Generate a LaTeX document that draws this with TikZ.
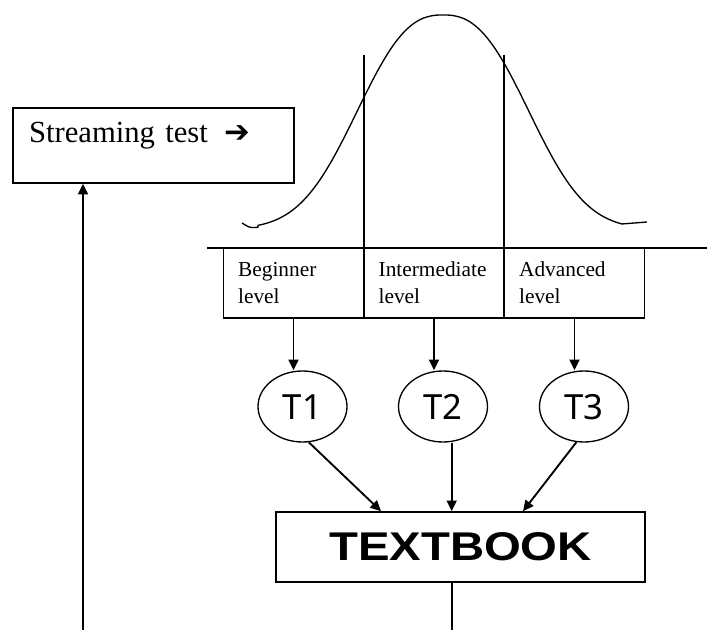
\documentclass[tikz,border=0pt]{standalone}
\usepackage{graphicx}
\usepackage{fontspec}
\setmainfont{Liberation Serif}
\newfontfamily\turmafont{Noto Sans}
\newfontfamily\livrofont{Liberation Sans}
\newfontfamily\setafont{DejaVu Sans}
\usetikzlibrary{arrows.meta,shapes.geometric}

\begin{document}
\begin{tikzpicture}[x=0.75pt,y=-0.75pt,line width=1pt,
    seta/.style={line width=1.4pt,-{Triangle[length=8pt,width=7.5pt]}},
    caixa/.style={draw,line width=1.2pt,inner sep=0pt},
    nivel/.style={caixa,minimum width=105.25pt,minimum height=52.5pt,
      text width=83pt,inner xsep=11pt,align=left,font=\fontsize{16}{20}\selectfont},
    turma/.style={draw,ellipse,minimum width=66.75pt,minimum height=53.25pt,
      inner sep=0pt,text height=19pt,text depth=-2.5pt,
      font=\turmafont\fontsize{26}{30}\selectfont}]
    \useasboundingbox (0,0) rectangle (707,630);

    % Caixa do teste
    \node[caixa,text width=186.75pt,inner xsep=12pt,align=left,
      text height=26.25pt,text depth=30pt,font=\fontsize{23}{27}\selectfont]
      (teste) at (153.5,145.5) {Streaming test\hspace{0.55em}{\setafont\bfseries ➔}};

    % Curva normal
    \draw (242,223) .. controls (250,228) .. (258,227.2)
      -- plot[domain=258:622,samples=120] (\x,{229-214*exp(-((abs(\x-443)+0.01)/105.5)^2.5)})
      -- (647,222);

    % Eixo
    \coordinate (eixoini) at (207,248);
    \coordinate (eixofim) at (707,248);
    \draw (eixoini) -- (eixofim);

    % Niveis
    \node[nivel] (beglvl) at (293.5,283) {Beginner\\level};
    \node[nivel] (intlvl) at (434,283) {Intermediate\\level};
    \node[nivel] (advlvl) at (574.5,283) {Advanced\\level};

    % Linhas de corte
    \coordinate (corteA) at (364,55);
    \coordinate (corteB) at (504,55);
    \draw[line width=1.5pt] (corteA) -- (corteA |- beglvl.north);
    \draw[line width=1.5pt] (corteB) -- (corteB |- advlvl.north);

    % Turmas
    \node[turma] (t1) at (302.5,406.5) {T1};
    \node[turma] (t2) at (443,406.5) {T2};
    \node[turma] (t3) at (584,406.5) {T3};

    \draw[seta] (beglvl.south) -- (beglvl.south |- t1.north);
    \draw[seta] (intlvl.south) -- (intlvl.south |- t2.north);
    \draw[seta] (advlvl.south) -- (advlvl.south |- t3.north);

    % Livro
    \node[caixa,minimum width=276.75pt,minimum height=52.5pt] (livro) at (460.5,547)
      {\resizebox{197pt}{21pt}{\livrofont\bfseries TEXTBOOK}};

    \draw[seta] (t1.-80) -- ([xshift=-59.6pt]livro.north);
    \draw[seta] ([xshift=6.5pt]t2.south) -- ([xshift=6.5pt]t2.south |- livro.north);
    \draw[seta] (t3.-102) -- ([xshift=46.9pt]livro.north);

    % Linhas soltas
    \coordinate (fimlivro) at (452,630);
    \draw (livro.south -| fimlivro) -- (fimlivro);
    \coordinate (inicio) at (83,630);
    \draw[seta,line width=1.5pt] (inicio) -- (inicio |- teste.south);
\end{tikzpicture}
\end{document}
